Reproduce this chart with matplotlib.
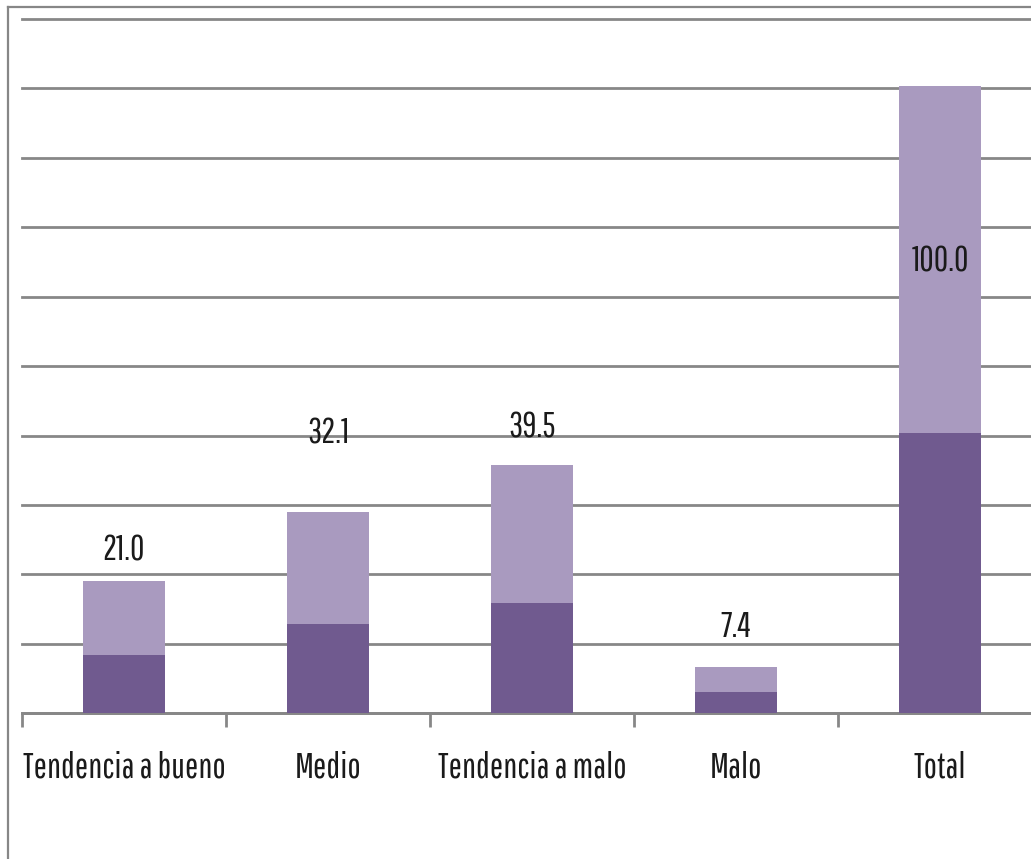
import matplotlib
matplotlib.use("Agg")
import matplotlib.pyplot as plt
from matplotlib.lines import Line2D
from matplotlib import font_manager
from matplotlib.font_manager import FontProperties
from matplotlib.textpath import TextPath
import numpy as np
import math

categories = ["Tendencia a bueno", "Medio", "Tendencia a malo", "Malo", "Total"]
dark_values = [9.3, 14.2, 17.6, 3.4, 44.7]
light_values = [11.7, 17.9, 21.9, 4.0, 55.3]
total_labels = ["21.0", "32.1", "39.5", "7.4", "100.0"]
label_y = [26.0, 44.7, 45.6, 13.8, 72.0]

# ---- pick a condensed font close to the reference look ----
regular = {f.name for f in font_manager.fontManager.ttflist
           if f.style == "normal" and str(f.weight) in ("400", "normal", "regular")}
candidates = ["Fira Sans Extra Condensed", "Sofia Sans Extra Condensed", "Saira Extra Condensed",
              "Barlow Condensed", "Encode Sans Condensed", "Roboto Condensed", "Open Sans Condensed",
              "Archivo Narrow", "PT Sans Narrow", "Asap Condensed", "IBM Plex Sans Condensed",
              "Sofia Sans Condensed", "Liberation Sans Narrow", "Ubuntu Condensed",
              "Fira Sans Condensed", "Encode Sans Compressed", "Saira Condensed",
              "Pathway Gothic One", "Yanone Kaffeesatz", "Mohave", "BenchNine"]
target_ratio = 202.0 / 25.0
best, best_score, best_w = "DejaVu Sans", 1e9, None
for c in candidates:
    if c not in regular:
        continue
    try:
        fp = FontProperties(family=c)
        if font_manager.findfont(fp, fallback_to_default=False) is None:
            continue
        w = TextPath((0, 0), "Tendencia a bueno", size=100, prop=fp).get_extents().width
        h = TextPath((0, 0), "T", size=100, prop=fp).get_extents().height
        score = abs(math.log((w / h) / target_ratio))
        if score < best_score:
            best, best_score, best_w = c, score, w
    except Exception:
        continue
family = best
if best_w is None:
    best_w = TextPath((0, 0), "Tendencia a bueno", size=100,
                      prop=FontProperties(family=family)).get_extents().width
# size (pt) so that the longest label is ~200 px wide at 100 dpi
fsize = 200.0 / (best_w / 100.0 * 100.0 / 72.0)
plt.rcParams['font.family'] = [family, 'DejaVu Sans']

W, H = 1031, 859
fig = plt.figure(figsize=(W / 100, H / 100), dpi=100)
left = 22 / W
bottom = (H - 713.3) / H
top = (H - 19) / H
right = 1042 / W
ax = fig.add_axes([left, bottom, right - left, top - bottom])

x = np.arange(len(categories))
dark_c = "#705A8F"
light_c = "#A99ABF"
grid_c = "#878787"

ax.bar(x, dark_values, width=0.4, color=dark_c, zorder=3)
ax.bar(x, light_values, width=0.4, bottom=dark_values, color=light_c, zorder=3)

ymax = 110.6
ax.set_ylim(0, ymax)
ax.set_xlim(-0.5, len(categories) - 0.5)
ax.set_yticks(np.linspace(0, ymax, 11))
ax.yaxis.grid(True, color=grid_c, linewidth=2.0, zorder=0)
for gl in ax.get_ygridlines():
    gl.set_clip_on(False)
ax.tick_params(axis='y', left=False, labelleft=False)

for s in ["left", "right", "top"]:
    ax.spines[s].set_visible(False)
ax.spines["bottom"].set_color(grid_c)
ax.spines["bottom"].set_linewidth(2.0)

ax.set_xticks(x)
ax.set_xticklabels(categories, fontsize=fsize, color="#1a1a1a")
ax.tick_params(axis='x', which='major', length=0, pad=27)
ax.set_xticks(np.arange(-0.5, len(categories), 1.0), minor=True)
ax.tick_params(axis='x', which='minor', length=10, width=2.0, color=grid_c)

for xi, lab, ly in zip(x, total_labels, label_y):
    ax.text(xi, ly, lab, ha='center', va='center', fontsize=fsize, color="#1a1a1a", zorder=4)

# outer chart border
fig.add_artist(Line2D([8 / W, 8 / W], [0, (H - 7) / H], color=grid_c, linewidth=1.6,
                      transform=fig.transFigure))
fig.add_artist(Line2D([8 / W, 1], [(H - 7) / H, (H - 7) / H], color=grid_c, linewidth=1.6,
                      transform=fig.transFigure))

fig.savefig("out.png", dpi=100)
